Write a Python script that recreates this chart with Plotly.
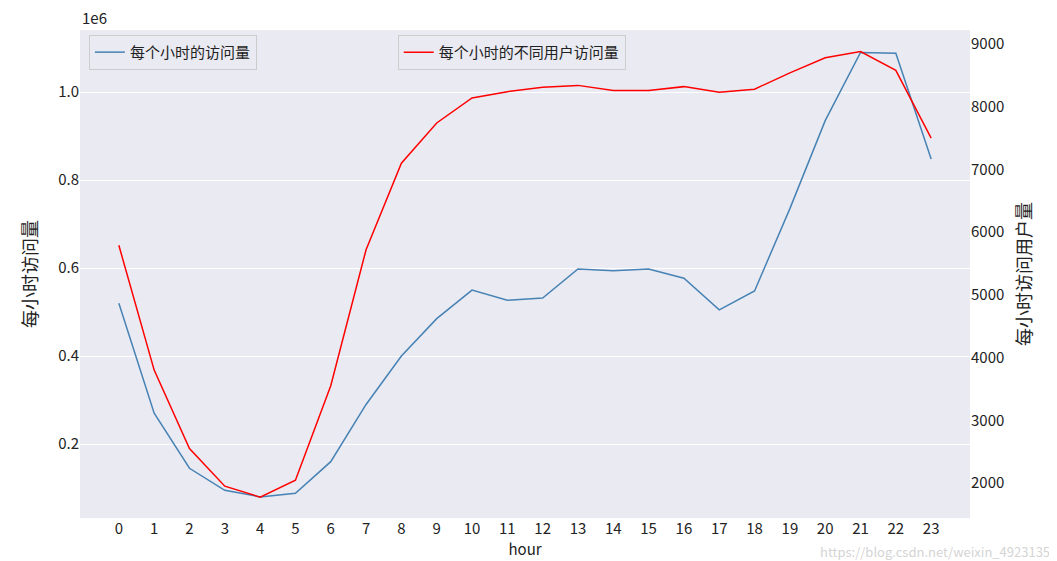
import plotly.graph_objects as go

hours = list(range(24))
pv_per_hour = [0.52e6, 0.27e6, 0.145e6, 0.095e6, 0.08e6, 0.088e6, 0.16e6, 0.29e6,
               0.40e6, 0.485e6, 0.55e6, 0.527e6, 0.532e6, 0.598e6, 0.594e6, 0.598e6,
               0.577e6, 0.505e6, 0.548e6, 0.735e6, 0.935e6, 1.09e6, 1.088e6, 0.848e6]
uv_per_hour = [5790, 3800, 2550, 1950, 1775, 2045, 3550, 5720, 7100, 7740, 8140, 8240,
               8310, 8340, 8260, 8260, 8320, 8230, 8280, 8540, 8780, 8880, 8580, 7500]

font = "Noto Sans CJK SC"
fig = go.Figure()
fig.add_trace(go.Scatter(x=hours, y=pv_per_hour, mode="lines", name="每个小时的访问量",
                         line=dict(color="steelblue", width=1.5), legend="legend"))
fig.add_trace(go.Scatter(x=hours, y=uv_per_hour, mode="lines", name="每个小时的不同用户访问量",
                         line=dict(color="red", width=1.5), yaxis="y2", legend="legend2"))

fig.update_layout(
    width=1057, height=561, showlegend=True,
    margin=dict(l=72, r=95, t=22, b=51),
    paper_bgcolor="white", plot_bgcolor="#EAEAF2",
    font=dict(family=font, size=15, color="#222"),
    xaxis=dict(title=dict(text="hour", standoff=0, font=dict(size=15)), tickmode="array",
               tickvals=hours, range=[-1.1, 24.1], showgrid=False, zeroline=False),
    yaxis=dict(title=dict(text="每小时访问量", font=dict(size=18)), range=[0.032e6, 1.141e6],
               tickvals=[0.2e6, 0.4e6, 0.6e6, 0.8e6, 1.0e6],
               ticktext=["0.2", "0.4", "0.6", "0.8", "1.0"],
               gridcolor="white", zeroline=False),
    yaxis2=dict(title=dict(text="每小时访问用户量", font=dict(size=18)), overlaying="y", side="right",
                range=[1442, 9223], tickvals=list(range(2000, 9001, 1000)),
                showgrid=False, zeroline=False),
    legend=dict(x=0.01, y=0.99, xanchor="left", yanchor="top", bgcolor="#EAEAF2",
                bordercolor="#ccc", borderwidth=1),
    legend2=dict(x=0.357, y=0.99, xanchor="left", yanchor="top", bgcolor="#EAEAF2",
                 bordercolor="#ccc", borderwidth=1),
    annotations=[dict(text="1e6", xref="paper", yref="paper", x=0, y=1.0,
                      xanchor="left", yanchor="bottom", showarrow=False, font=dict(size=15)),
                 dict(text="https://blog.csdn.net/weixin_49231355", xref="paper", yref="paper",
                      x=1.1, y=-0.045, xanchor="right", yanchor="top", showarrow=False,
                      font=dict(size=13, color="rgba(200,200,200,0.8)"))],
)
fig.write_html("out.html")
